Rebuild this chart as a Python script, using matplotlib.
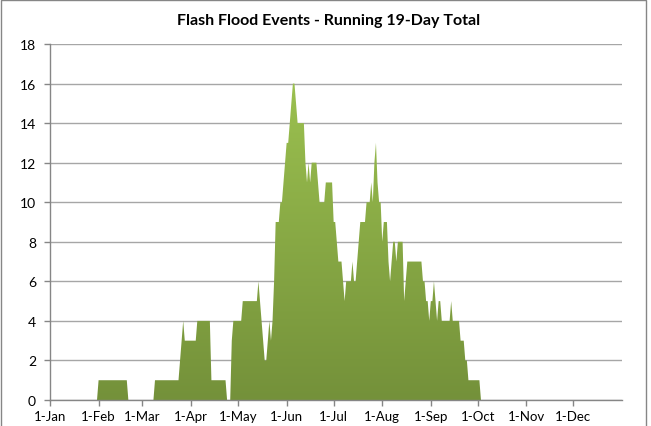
import numpy as np
import pandas as pd
import matplotlib
matplotlib.use("Agg")
import matplotlib.pyplot as plt
import matplotlib.dates as mdates
from matplotlib.colors import LinearSegmentedColormap
from matplotlib.patches import Rectangle

plt.rcParams['font.family'] = ['Lato', 'DejaVu Sans']

# running 19-day total, one value per day, month by month
jan = [0, 0, 0, 0, 0, 0, 0, 0, 0, 0, 0, 0, 0, 0, 0, 0, 0, 0, 0, 0,
       0, 0, 0, 0, 0, 0, 0, 0, 0, 0, 0]
feb = [1, 1, 1, 1, 1, 1, 1, 1, 1, 1, 1, 1, 1, 1, 1, 1, 1, 1, 1, 0,
       0, 0, 0, 0, 0, 0, 0, 0]
mar = [0, 0, 0, 0, 0, 0, 0, 0, 1, 1, 1, 1, 1, 1, 1, 1, 1, 1, 1, 1,
       1, 1, 1, 1, 2, 3, 4, 3, 3, 3, 3]
apr = [3, 3, 3, 3, 4, 4, 4, 4, 4, 4, 4, 4, 4, 1, 1, 1, 1, 1, 1, 1,
       1, 1, 1, 0, 0, 0, 3, 4, 4, 4]
may = [4, 4, 4, 5, 5, 5, 5, 5, 5, 5, 5, 5, 5, 6, 5, 4, 3, 2, 2, 3,
       4, 3, 4, 6, 9, 9, 9, 10, 10, 11, 12]
jun = [13, 13, 14, 15, 16, 16, 15, 14, 14, 14, 14, 14, 12, 11, 12, 11, 12, 12, 12, 12,
       11, 10, 10, 10, 10, 11, 11, 11, 11, 11]
jul = [9, 9, 8, 7, 7, 7, 6, 5, 6, 6, 6, 6, 7, 6, 6, 7, 8, 9, 9, 9,
       9, 10, 10, 10, 11, 10, 12, 13, 11, 10, 10]
aug = [8, 9, 9, 9, 7, 6, 7, 8, 8, 7, 8, 8, 8, 8, 5, 6, 7, 7, 7, 7,
       7, 7, 7, 7, 7, 7, 6, 6, 5, 5, 4]
sep = [5, 5, 6, 5, 4, 5, 5, 4, 4, 4, 4, 4, 4, 5, 4, 4, 4, 4, 4, 3,
       3, 3, 2, 2, 1, 1, 1, 1, 1, 1]
oct_ = [1, 1, 0, 0, 0, 0, 0, 0, 0, 0, 0, 0, 0, 0, 0, 0, 0, 0, 0, 0,
        0, 0, 0, 0, 0, 0, 0, 0, 0, 0, 0]
nov = [0, 0, 0, 0, 0, 0, 0, 0, 0, 0, 0, 0, 0, 0, 0, 0, 0, 0, 0, 0,
       0, 0, 0, 0, 0, 0, 0, 0, 0, 0]
dec = [0, 0, 0, 0, 0, 0, 0, 0, 0, 0, 0, 0, 0, 0, 0, 0, 0, 0, 0, 0,
       0, 0, 0, 0, 0, 0, 0, 0, 0, 0, 0]

tick_labels = ["1-Jan", "1-Feb", "1-Mar", "1-Apr", "1-May", "1-Jun",
               "1-Jul", "1-Aug", "1-Sep", "1-Oct", "1-Nov", "1-Dec"]

values = np.array(jan + feb + mar + apr + may + jun + jul + aug + sep + oct_ + nov + dec, dtype=float)
dates = pd.date_range("2013-01-01", periods=len(values), freq="D")
x = mdates.date2num(dates)
month_starts = mdates.date2num(pd.date_range("2013-01-01", periods=12, freq="MS"))
x0 = mdates.date2num(pd.Timestamp("2013-01-01"))
x1 = mdates.date2num(pd.Timestamp("2014-01-01"))

fig = plt.figure(figsize=(6.51, 4.27), dpi=100)
ax = fig.add_axes([50 / 651, 26 / 427, 572 / 651, 356 / 427])

# area with vertical gradient, clipped to the filled shape
poly = ax.fill_between(x, values, 0, color="none", lw=0)
grad = np.linspace(0, 1, 256).reshape(-1, 1)
cmap = LinearSegmentedColormap.from_list("grn", ["#74913a", "#a0c652"])
im = ax.imshow(grad, extent=[x0, x1, 0, 18], origin="lower", aspect="auto",
               cmap=cmap, zorder=2, interpolation="bilinear")
im.set_clip_path(poly.get_paths()[0], transform=ax.transData)

ax.set_xlim(x0, x1)
ax.set_ylim(0, 18)
ax.set_yticks(range(0, 19, 2))
ax.set_xticks(month_starts)
ax.set_xticklabels(tick_labels)

ax.yaxis.grid(True, color="#a6a6a6", lw=1)
ax.set_axisbelow(True)
for s in ["top", "right"]:
    ax.spines[s].set_visible(False)
for s in ["left", "bottom"]:
    ax.spines[s].set_color("#868686")
    ax.spines[s].set_linewidth(1)
ax.tick_params(axis="both", colors="#868686", labelcolor="black", labelsize=10,
               length=4, width=1, direction="out")
ax.tick_params(axis="x", labelsize=9.5, pad=3)
ax.tick_params(axis="y", pad=6)

fig.text(0.505, 0.951, "Flash Flood Events - Running 19-Day Total",
         ha="center", va="center", fontsize=11.5, fontweight="bold")

# chart border
fig.patches.append(Rectangle((0.5 / 651, -0.05), 645 / 651, 1.0 - 0.5 / 427 + 0.05,
                             transform=fig.transFigure, fill=False,
                             edgecolor="#868686", lw=1))

fig.savefig("out.png", dpi=100)
